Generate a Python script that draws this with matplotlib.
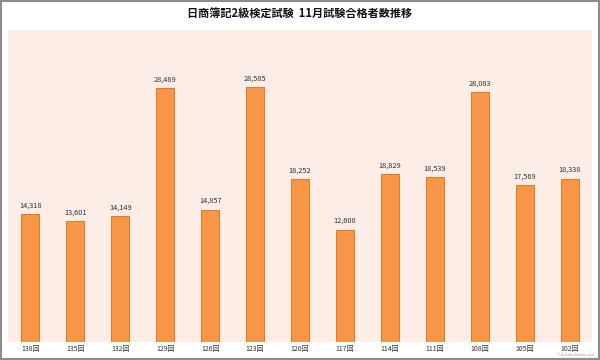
import matplotlib
matplotlib.use("Agg")
import matplotlib.pyplot as plt
from matplotlib.patches import Rectangle

plt.rcParams['font.family'] = ['Noto Sans CJK JP', 'DejaVu Sans']

title = "日商簿記2級検定試験  11月試験合格者数推移"
categories = ["138回", "135回", "132回", "129回", "126回", "123回", "120回",
              "117回", "114回", "111回", "108回", "105回", "102回"]
values = [14318, 13601, 14149, 28489, 14857, 28585, 18252,
          12608, 18829, 18539, 28083, 17569, 18338]

fig = plt.figure(figsize=(6, 3.6), dpi=100)
fig.patch.set_facecolor('white')
fig.add_artist(Rectangle((0.002, 0.003), 0.996, 0.994, transform=fig.transFigure,
                         fill=False, edgecolor='#8c8c8c', linewidth=1.5))

ax = fig.add_axes([0.0133, 0.05, 0.9734, 0.8667])
ax.set_facecolor('#FCEDE6')
x = list(range(len(categories)))
bars = ax.bar(x, values, width=0.4, color='#F79646', edgecolor='#E46C0A', linewidth=0.6)
for xi, v in zip(x, values):
    ax.text(xi, v + 500, f"{v:,}", ha='center', va='bottom', fontsize=5.3, color='#333333')

ax.set_xlim(-0.5, len(categories) - 0.5)
ax.set_ylim(0, 35000)
ax.set_yticks([])
ax.set_xticks(x)
ax.set_xticklabels(categories, fontsize=5, color='#333333')
ax.tick_params(axis='x', length=0, pad=2)
for s in ax.spines.values():
    s.set_visible(False)

fig.text(0.5, 0.96, title, ha='center', va='center', fontsize=8, fontweight='bold', color='#111111')
fig.text(0.99, 0.008, "© shikaku-hikaku.com", ha='right', va='bottom', fontsize=2.5, color='#999999')

fig.savefig('out.png', dpi=100)
